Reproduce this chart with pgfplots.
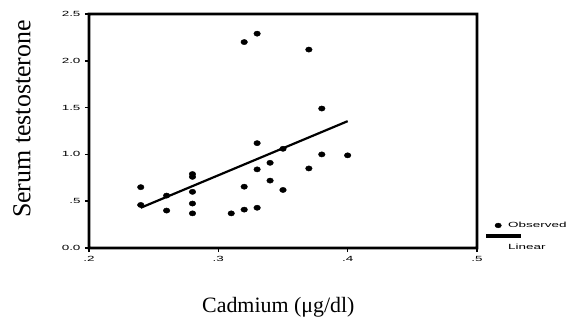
\documentclass[border=0pt]{standalone}
\usepackage{fontspec}
\setmainfont{Liberation Serif}
\newfontfamily\arialf{Liberation Sans}
\usepackage{graphicx}
\usepackage{pgfplots}
\pgfplotsset{compat=1.18}
\newcommand{\tl}[1]{\scalebox{1.8}[1]{#1}}
\begin{document}
\begin{tikzpicture}
\useasboundingbox (-89bp,-72bp) rectangle (480bp,248bp);
\begin{axis}[
  name=ax,
  at={(0,0)}, anchor=south west,
  scale only axis, width=388bp, height=234bp,
  xmin=0.2, xmax=0.5, ymin=0, ymax=2.5,
  xtick={0.2,0.3,0.4,0.5},
  xticklabels={\tl{.2},\tl{.3},\tl{.4},\tl{.5}},
  ytick={0,0.5,1,1.5,2,2.5},
  yticklabels={\tl{0.0},\tl{.5},\tl{1.0},\tl{1.5},\tl{2.0},\tl{2.5}},
  tick align=outside, major tick length=4bp,
  tick style={line width=1.5bp, black},
  xtick pos=bottom, ytick pos=left,
  ticklabel style={font=\arialf\fontsize{7.5}{8}\selectfont},
  yticklabel style={xshift=-1bp},
  xticklabel style={yshift=-1bp},
  xlabel={\fontsize{22}{26}\selectfont Cadmium (μg/dl)},
  xlabel style={at={(axis description cs:0.488,-0.2735)}, anchor=base},
  ylabel={\fontsize{26}{30}\selectfont Serum testosterone},
  ylabel style={at={(axis description cs:-0.1727,0.551)}, anchor=center},
  legend style={draw=none, fill=none, at={(axis description cs:1,0)}, anchor=south west,
    xshift=10bp, yshift=-5bp, inner sep=0pt, row sep=11bp,
    font=\arialf\fontsize{7.5}{8}\selectfont, cells={anchor=west}},
]
\addplot[only marks, mark=*, mark size=3.3bp, line width=0.4bp, mark options={yscale=0.8, fill=black, draw=black},
  legend image code/.code={
    \path[draw=none, fill=none] (0bp,-2bp) rectangle (19bp,2bp);
    \fill[black] (11bp,0bp) ellipse (3.2bp and 2.4bp);}]
  table {
x y
0.24 0.65
0.24 0.46
0.26 0.56
0.26 0.40
0.28 0.79
0.28 0.76
0.28 0.60
0.28 0.475
0.28 0.37
0.31 0.37
0.32 2.20
0.32 0.655
0.32 0.41
0.33 2.29
0.33 1.12
0.33 0.84
0.33 0.43
0.34 0.91
0.34 0.72
0.35 1.06
0.35 0.62
0.37 2.12
0.37 0.85
0.38 1.49
0.38 1.00
0.40 0.99
};
\addlegendentry{\tl{Observed}}
\addplot[black, line width=2.2bp,
  legend image code/.code={
    \path[draw=none, fill=none] (0bp,-2bp) rectangle (19bp,2bp);
    \fill[overlay, black] (0bp,10.2bp) rectangle (33bp,11.8bp);}]
  coordinates {(0.24,0.43) (0.40,1.355)};
\addlegendentry{\tl{Linear}}
\end{axis}
\fill[black, even odd rule]
  ([shift={(-1.4bp,-1.4bp)}]ax.south west) rectangle ([shift={(1.4bp,1.4bp)}]ax.north east)
  ([shift={(1.4bp,1.4bp)}]ax.south west) rectangle ([shift={(-1.4bp,-1.4bp)}]ax.north east);
\end{tikzpicture}
\end{document}
